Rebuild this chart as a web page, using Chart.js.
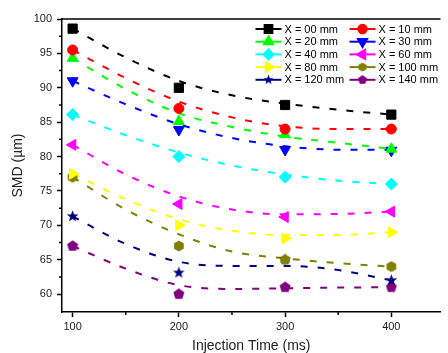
<!DOCTYPE html>
<html>
<head>
<meta charset="utf-8">
<script src="https://cdn.jsdelivr.net/npm/chart.js@4.4.1/dist/chart.umd.min.js"></script>
<style>
  body { margin: 0; background: #fff; overflow: hidden; }
  #wrap { width: 448px; height: 353px; }
</style>
</head>
<body>
<div id="wrap"><canvas id="chart" width="448" height="353"></canvas></div>
<script>
// injection times of the measured points and of the fitted curves
const times = [100, 200, 300, 400];
const fitTimes = [100, 150, 200, 250, 300, 350, 400];

const labels = ["X = 00 mm", "X = 10 mm", "X = 20 mm", "X = 30 mm", "X = 40 mm",
                "X = 60 mm", "X = 80 mm", "X = 100 mm", "X = 120 mm", "X = 140 mm"];

// measured SMD (µm)
const smd00 = [98.6, 90.0, 87.5, 86.1];
const smd10 = [95.5, 87.0, 84.0, 84.0];
const smd20 = [94.3, 85.1, 83.2, 81.1];
const smd30 = [91.0, 83.9, 81.0, 80.9];
const smd40 = [86.1, 80.0, 77.0, 76.0];
const smd60 = [81.7, 73.1, 71.2, 72.0];
const smd80 = [77.5, 70.0, 68.1, 69.0];
const smd100 = [77.0, 67.0, 65.0, 64.0];
const smd120 = [71.3, 63.1, 65.0, 62.0];
const smd140 = [67.0, 60.0, 61.0, 61.0];

// fitted (dashed) curves
const fit00 = [98.6, 94.4, 91.0, 88.9, 87.7, 86.8, 86.1];
const fit10 = [95.5, 91.4, 88.0, 85.7, 84.4, 84.0, 84.0];
const fit20 = [94.3, 89.8, 86.3, 84.3, 82.9, 82.0, 81.1];
const fit30 = [91.0, 87.6, 84.7, 82.7, 81.5, 81.0, 81.0];
const fit40 = [86.1, 83.1, 80.6, 78.7, 77.4, 76.5, 76.0];
const fit60 = [81.7, 77.4, 74.2, 72.3, 71.6, 71.65, 72.0];
const fit80 = [77.5, 73.8, 70.9, 69.2, 68.6, 68.6, 69.0];
const fit100 = [77.0, 72.3, 68.7, 66.2, 65.2, 64.5, 64.0];
const fit120 = [71.3, 67.3, 64.7, 64.1, 64.1, 63.5, 62.0];
const fit140 = [67.0, 63.7, 61.3, 60.75, 60.85, 60.95, 61.0];

const xTicks = [100, 200, 300, 400];
const xMinor = [150, 250, 350];
const yTicks = [60, 65, 70, 75, 80, 85, 90, 95, 100];
const yMinor = [62.5, 67.5, 72.5, 77.5, 82.5, 87.5, 92.5, 97.5];

const measured = [smd00, smd10, smd20, smd30, smd40, smd60, smd80, smd100, smd120, smd140];
const fitted = [fit00, fit10, fit20, fit30, fit40, fit60, fit80, fit100, fit120, fit140];

const colors = ["#000000", "#ff0000", "#00ff00", "#0000ff", "#00ffff",
                "#ff00ff", "#ffff00", "#808000", "#000080", "#800080"];

// small canvas markers for shapes Chart.js doesn't have
function polyMarker(color, n, outer, inner) {
  const c = document.createElement("canvas");
  const s = Math.ceil(outer * 2 + 2);
  c.width = s; c.height = s;
  const g = c.getContext("2d");
  const pts = inner ? n * 2 : n;
  g.beginPath();
  for (let i = 0; i < pts; i++) {
    const r = inner && i % 2 ? inner : outer;
    const a = -Math.PI / 2 + i * 2 * Math.PI / pts;
    const px = s / 2 + r * Math.cos(a), py = s / 2 + r * Math.sin(a);
    i ? g.lineTo(px, py) : g.moveTo(px, py);
  }
  g.closePath();
  g.fillStyle = color;
  g.fill();
  return c;
}

const markers = [
  { pointStyle: "rect", radius: 6.5, rotation: 0 },
  { pointStyle: "circle", radius: 5, rotation: 0 },
  { pointStyle: "triangle", radius: 6.3, rotation: 0 },
  { pointStyle: "triangle", radius: 6.3, rotation: 180 },
  { pointStyle: "rectRot", radius: 6, rotation: 0 },
  { pointStyle: "triangle", radius: 6.3, rotation: 270 },
  { pointStyle: "triangle", radius: 6.3, rotation: 90 },
  { pointStyle: polyMarker(colors[7], 6, 5.6), radius: 5.5, rotation: 0 },
  { pointStyle: polyMarker(colors[8], 5, 6.2, 2.6), radius: 6, rotation: 0 },
  { pointStyle: polyMarker(colors[9], 5, 5.8), radius: 5.5, rotation: 0 }
];
const legendMarkers = [
  { pointStyle: "rect", radius: 5.5 },
  { pointStyle: "circle", radius: 4.2 },
  { pointStyle: "triangle", radius: 5.3 },
  { pointStyle: "triangle", radius: 5.3 },
  { pointStyle: "rectRot", radius: 5 },
  { pointStyle: "triangle", radius: 5.3 },
  { pointStyle: "triangle", radius: 5.3 },
  { pointStyle: polyMarker(colors[7], 6, 4.6), radius: 4.5 },
  { pointStyle: polyMarker(colors[8], 5, 5.2, 2.2), radius: 5 },
  { pointStyle: polyMarker(colors[9], 5, 4.8), radius: 4.5 }
];

const datasets = [];
measured.forEach((vals, i) => {
  datasets.push({
    label: labels[i],
    data: times.map((t, k) => ({ x: t, y: vals[k] })),
    showLine: false,
    pointStyle: markers[i].pointStyle,
    rotation: markers[i].rotation,
    pointRadius: markers[i].radius,
    pointBackgroundColor: colors[i],
    pointBorderColor: colors[i],
    pointBorderWidth: 1
  });
});
fitted.forEach((vals, i) => {
  datasets.push({
    label: "",
    data: fitTimes.map((t, k) => ({ x: t, y: vals[k] })),
    type: "line",
    borderColor: colors[i],
    borderWidth: 2,
    borderDash: [7, 10],
    cubicInterpolationMode: "monotone",
    pointRadius: 0,
    fill: false
  });
});

const frame = {
  id: "frame",
  afterDraw(chart) {
    const { ctx, chartArea: a, scales: { x, y } } = chart;
    ctx.save();
    ctx.strokeStyle = "#000";
    ctx.lineWidth = 1.5;
    ctx.beginPath();
    ctx.moveTo(a.left, a.top);
    ctx.lineTo(a.right, a.top);
    xMinor.forEach(v => {
      const px = x.getPixelForValue(v);
      ctx.moveTo(px, a.bottom);
      ctx.lineTo(px, a.bottom + 3);
    });
    yMinor.forEach(v => {
      const py = y.getPixelForValue(v);
      ctx.moveTo(a.left, py);
      ctx.lineTo(a.left - 3, py);
    });
    ctx.stroke();

    // legend, two columns inside the plot
    ctx.font = '11px "Liberation Sans", Arial, sans-serif';
    ctx.textBaseline = "middle";
    ctx.textAlign = "left";
    for (let i = 0; i < labels.length; i++) {
      const cx = a.right - (i % 2 ? 91 : 185);
      const cy = a.top + 10 + Math.floor(i / 2) * 12.7;
      ctx.strokeStyle = colors[i];
      ctx.fillStyle = colors[i];
      ctx.lineWidth = 2;
      ctx.setLineDash([]);
      ctx.beginPath();
      ctx.moveTo(cx, cy);
      ctx.lineTo(cx + 26, cy);
      ctx.stroke();
      Chart.helpers.drawPoint(ctx, {
        pointStyle: legendMarkers[i].pointStyle,
        radius: legendMarkers[i].radius,
        rotation: markers[i].rotation,
        borderWidth: 1
      }, cx + 13, cy);
      ctx.fillStyle = "#000";
      ctx.fillText(labels[i], cx + 29, cy + 0.5);
    }
    ctx.restore();
  }
};

new Chart(document.getElementById("chart"), {
  type: "scatter",
  data: { datasets: datasets },
  options: {
    responsive: false,
    animation: false,
    devicePixelRatio: 1,
    layout: { padding: { top: 19, right: 0, left: 0, bottom: 0 } },
    plugins: { legend: { display: false }, tooltip: { enabled: false } },
    scales: {
      x: {
        type: "linear",
        min: 90,
        max: 446.3,
        afterBuildTicks: s => { s.ticks = xTicks.map(v => ({ value: v })); },
        afterFit: s => { s.height = 41; },
        ticks: { color: "#222", padding: 3, font: { family: "Liberation Sans", size: 11 } },
        grid: { drawOnChartArea: false, tickLength: 5, tickColor: "#000", tickWidth: 1.5 },
        border: { color: "#000", width: 1.5 },
        title: {
          display: true,
          text: "Injection Time (ms)",
          color: "#222",
          font: { family: "Liberation Sans", size: 14 },
          padding: { top: 0, bottom: -2 }
        }
      },
      y: {
        min: 57.4,
        max: 100,
        afterBuildTicks: s => { s.ticks = yTicks.map(v => ({ value: v })); },
        afterFit: s => { s.width = 62; },
        ticks: { color: "#222", padding: 5, font: { family: "Liberation Sans", size: 11 } },
        grid: { drawOnChartArea: false, tickLength: 5, tickColor: "#000", tickWidth: 1.5 },
        border: { color: "#000", width: 1.5 },
        title: {
          display: true,
          text: "SMD (µm)",
          color: "#222",
          font: { family: "Liberation Sans", size: 14 },
          padding: { top: 10, bottom: 0 }
        }
      }
    }
  },
  plugins: [frame]
});
</script>
</body>
</html>
